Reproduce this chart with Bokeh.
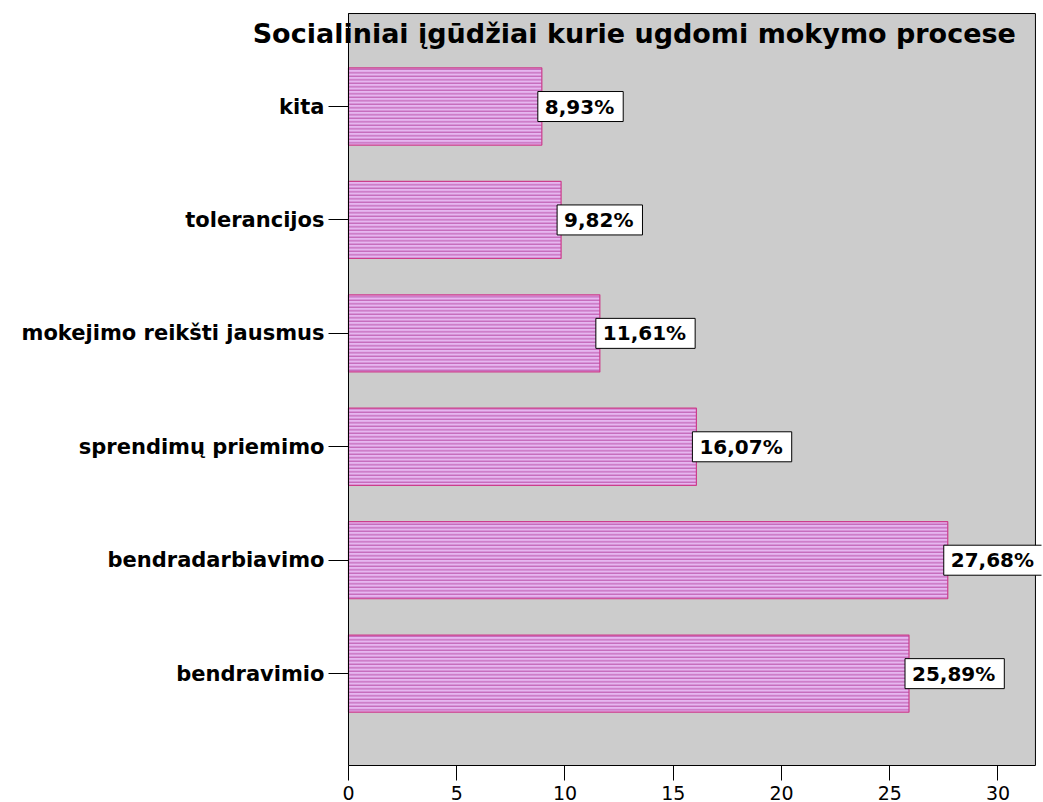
from bokeh.plotting import figure
from bokeh.models import Label, FixedTicker, Range1d
from bokeh.embed import file_html
from bokeh.resources import INLINE

categories = ["bendravimio", "bendradarbiavimo", "sprendimų priemimo",
              "mokejimo reikšti jausmus", "tolerancijos", "kita"]
values = [25.89, 27.68, 16.07, 11.61, 9.82, 8.93]
value_labels = ["25,89%", "27,68%", "16,07%", "11,61%", "9,82%", "8,93%"]
x_ticks = [0, 5, 10, 15, 20, 25, 30]
title_text = "Socialiniai įgūdžiai kurie ugdomi mokymo procese"

positions = list(range(len(categories)))

# axis extents of the (gray) plot area
x_min, x_max = 0, 31.73
y_min, y_max = -0.81, 5.82

p = figure(width=1043, height=802, output_backend="svg", toolbar_location=None,
           x_range=Range1d(-16.074, 32.01), y_range=Range1d(y_min, 5.829),
           min_border_left=0, min_border_right=2, min_border_top=12, min_border_bottom=37)
p.background_fill_color = "white"
p.border_fill_color = "white"
p.outline_line_color = None
p.xgrid.visible = False
p.ygrid.visible = False

# gray plot area with black frame
p.quad(left=[x_min], right=[x_max], bottom=[y_min], top=[y_max],
       fill_color="#cccccc", line_color="black", line_width=1)

p.hbar(y=positions, right=values, left=0, height=0.68,
       fill_color="#e6b6f0", line_color="#cc3d8c", line_width=1.2,
       hatch_pattern="horizontal_line", hatch_color="#b84da6",
       hatch_scale=3.5, hatch_weight=1)

p.xaxis.ticker = FixedTicker(ticks=x_ticks)
p.xaxis.bounds = (x_min, x_max)
p.xaxis.major_tick_out = 15
p.xaxis.major_tick_in = 0
p.xaxis.minor_tick_out = 0
p.xaxis.minor_tick_in = 0
p.xaxis.axis_line_color = "black"
p.xaxis.major_tick_line_color = "black"
p.xaxis.major_label_text_font = "DejaVu Sans"
p.xaxis.major_label_text_font_size = "19px"
p.xaxis.major_label_text_color = "black"
p.xaxis.major_label_standoff = 5

p.yaxis.fixed_location = x_min
p.yaxis.ticker = FixedTicker(ticks=positions)
p.yaxis.major_label_overrides = {i: c for i, c in zip(positions, categories)}
p.yaxis.bounds = (y_min, y_max)
p.yaxis.major_tick_out = 20
p.yaxis.major_tick_in = 0
p.yaxis.minor_tick_out = 0
p.yaxis.minor_tick_in = 0
p.yaxis.axis_line_color = "black"
p.yaxis.major_tick_line_color = "black"
p.yaxis.major_label_text_font = "DejaVu Sans"
p.yaxis.major_label_text_font_style = "bold"
p.yaxis.major_label_text_font_size = "21px"
p.yaxis.major_label_text_color = "black"
p.yaxis.major_label_standoff = 4

for y, v, t in zip(positions, values, value_labels):
    p.add_layout(Label(x=v, y=y, text=t, x_offset=-4, text_align="left",
                       text_baseline="middle", text_font="DejaVu Sans",
                       text_font_style="bold", text_font_size="20px",
                       text_color="black", background_fill_color="white",
                       border_line_color="black", border_line_width=1,
                       padding=dict(left=7, right=9, top=3, bottom=3)))

p.add_layout(Label(x=13.2, y=5.64, text=title_text, text_align="center",
                   text_baseline="middle", text_font="DejaVu Sans",
                   text_font_style="bold", text_font_size="27px",
                   text_color="black"))

open("out.html", "w").write(file_html(p, INLINE))
